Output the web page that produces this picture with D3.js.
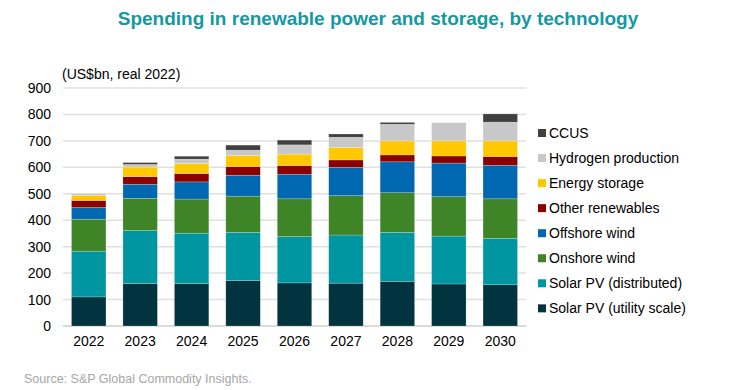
<!DOCTYPE html>
<html>
<head>
<meta charset="utf-8">
<script src="https://cdn.jsdelivr.net/npm/d3@7"></script>
<style>
  body { margin: 0; background: #fff; }
  text { font-family: "Liberation Sans", Arial, sans-serif; }
</style>
</head>
<body>
<svg id="chart" width="750" height="390"></svg>
<script>
let years = ["2022", "2023", "2024", "2025", "2026", "2027", "2028", "2029", "2030"];
let seriesNames = ["Solar PV (utility scale)", "Solar PV (distributed)", "Onshore wind", "Offshore wind",
                   "Other renewables", "Energy storage", "Hydrogen production", "CCUS"];
let solarUtility     = [110, 161, 161, 172, 163, 162, 169, 159, 156];
let solarDistributed = [173, 200, 190, 182, 175, 182, 185, 181, 175];
let onshoreWind      = [121, 122, 129, 137, 143, 149, 150, 149, 150];
let offshoreWind     = [44, 53, 65, 79, 93, 107, 117, 127, 127];
let otherRenewables  = [27, 29, 32, 33, 33, 28, 26, 27, 33];
let energyStorage    = [19, 36, 37, 42, 43, 47, 53, 57, 59];
let hydrogen         = [3, 10, 17, 20, 35, 39, 63, 67, 71];
let ccus             = [1, 7, 11, 19, 18, 12, 7, 1, 31];
let yTicks = [0, 100, 200, 300, 400, 500, 600, 700, 800, 900];

let colors = ["#023440", "#0096a1", "#3f8527", "#0068b0", "#8b0000", "#ffc800", "#c8c8c8", "#404040"];
let allSeries = [solarUtility, solarDistributed, onshoreWind, offshoreWind,
                 otherRenewables, energyStorage, hydrogen, ccus];

// table for d3.stack
let table = years.map((y, i) => {
    let row = { year: y };
    seriesNames.forEach((name, k) => { row[name] = allSeries[k][i]; });
    return row;
});

let svg = d3.select("#chart");
let margin = { left: 63, right: 224, top: 88, bottom: 64 };
let width = 750 - margin.left - margin.right;
let height = 390 - margin.top - margin.bottom;

let x = d3.scaleBand().domain(years).range([margin.left, margin.left + width]).paddingInner(0.33).paddingOuter(0.165);
let y = d3.scaleLinear().domain([0, 900]).range([margin.top + height, margin.top]);

// title
svg.append("text")
   .attr("x", 378).attr("y", 25)
   .attr("text-anchor", "middle")
   .attr("font-size", 19).attr("font-weight", "bold")
   .attr("fill", "#1399a2")
   .text("Spending in renewable power and storage, by technology");

svg.append("text")
   .attr("x", 62).attr("y", 79)
   .attr("font-size", 14).attr("fill", "#000")
   .text("(US$bn, real 2022)");

// grid
svg.append("g").selectAll("line")
   .data(yTicks)
   .enter()
   .append("line")
   .attr("x1", margin.left).attr("x2", margin.left + width)
   .attr("y1", d => y(d)).attr("y2", d => y(d))
   .attr("stroke", d => d === 0 ? "#cfcfcf" : "#e0e0e0")
   .attr("stroke-width", 1.5);

let yAxis = d3.axisLeft(y).tickValues(yTicks).tickSize(0).tickPadding(12);
svg.append("g")
   .attr("transform", "translate(" + margin.left + ",0)")
   .call(yAxis)
   .call(g => g.select(".domain").remove())
   .selectAll("text").attr("font-size", 14).attr("fill", "#000")
   .attr("font-family", "Liberation Sans, Arial, sans-serif");

let xAxis = d3.axisBottom(x).tickSize(0).tickPadding(10);
svg.append("g")
   .attr("transform", "translate(0," + (margin.top + height) + ")")
   .call(xAxis)
   .call(g => g.select(".domain").remove())
   .selectAll("text").attr("font-size", 14).attr("fill", "#000")
   .attr("font-family", "Liberation Sans, Arial, sans-serif");

// bars
let stacked = d3.stack().keys(seriesNames)(table);
svg.append("g").selectAll("g")
   .data(stacked)
   .enter()
   .append("g")
   .attr("fill", (d, i) => colors[i])
   .selectAll("rect")
   .data(d => d)
   .enter()
   .append("rect")
   .attr("x", d => x(d.data.year))
   .attr("width", x.bandwidth())
   .attr("y", d => y(d[1]))
   .attr("height", d => y(d[0]) - y(d[1]))
   .attr("stroke", "#ffffff")
   .attr("stroke-opacity", 0.35)
   .attr("stroke-width", 0.6);

// legend (top item = CCUS)
let legendItems = seriesNames.map((n, i) => ({ name: n, color: colors[i] })).reverse();
let legend = svg.append("g").attr("transform", "translate(538,133)");
let item = legend.selectAll("g")
   .data(legendItems)
   .enter()
   .append("g")
   .attr("transform", (d, i) => "translate(0," + (i * 25.05) + ")");
item.append("rect")
    .attr("x", 0).attr("y", -4).attr("width", 8).attr("height", 8)
    .attr("fill", d => d.color);
item.append("text")
    .attr("x", 11).attr("y", 5)
    .attr("font-size", 14).attr("fill", "#000")
    .text(d => d.name);

// source
svg.append("text")
   .attr("x", 24).attr("y", 383)
   .attr("font-size", 12.5).attr("fill", "#a6a6a6")
   .text("Source: S&P Global Commodity Insights.");
</script>
</body>
</html>
